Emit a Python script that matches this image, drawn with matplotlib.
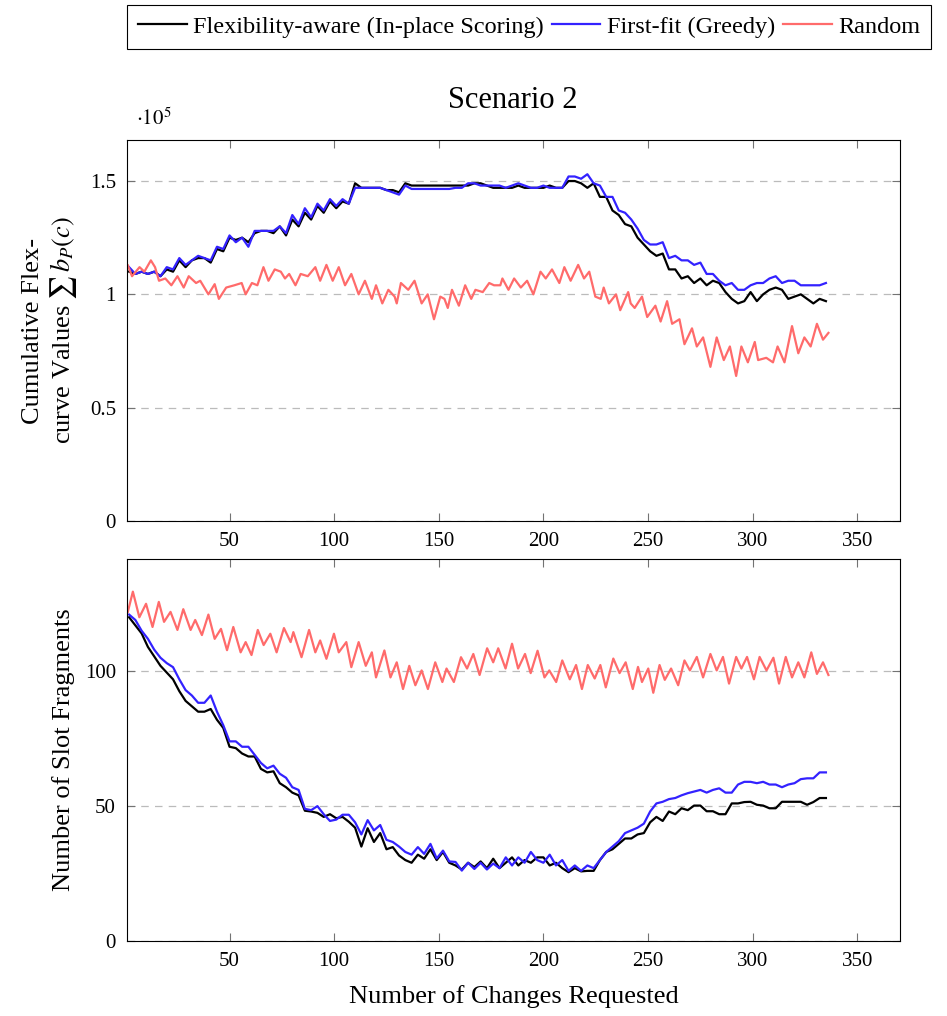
import matplotlib.pyplot as plt
from matplotlib.lines import Line2D
import numpy as np

plt.rcParams['font.family'] = ['Liberation Serif', 'DejaVu Serif']
plt.rcParams['mathtext.fontset'] = 'stix'

# shared step grid for the two greedy strategies
x_grid = np.arange(2, 336, 3)

# top panel: cumulative flex-curve values (x 1e5)
top_flex = [1.10, 1.09, 1.10, 1.09, 1.10, 1.08, 1.11, 1.10, 1.15, 1.12, 1.15, 1.16, 1.16, 1.14,
            1.20, 1.19, 1.25, 1.24, 1.25, 1.23, 1.27, 1.28, 1.28, 1.27, 1.30, 1.26, 1.33, 1.30,
            1.36, 1.33, 1.39, 1.36, 1.41, 1.38, 1.41, 1.40, 1.49, 1.47, 1.47, 1.47, 1.47, 1.46,
            1.46, 1.45, 1.49, 1.48, 1.48, 1.48, 1.48, 1.48, 1.48, 1.48, 1.48, 1.48, 1.48, 1.49,
            1.49, 1.48, 1.47, 1.47, 1.47, 1.47, 1.48, 1.47, 1.47, 1.47, 1.47, 1.48, 1.47, 1.47,
            1.50, 1.50, 1.49, 1.47, 1.49, 1.43, 1.43, 1.37, 1.35, 1.31, 1.30, 1.25, 1.22, 1.19,
            1.17, 1.18, 1.11, 1.11, 1.07, 1.08, 1.05, 1.07, 1.04, 1.06, 1.05, 1.01, 0.98, 0.96,
            0.97, 1.01, 0.97, 1.00, 1.02, 1.03, 1.02, 0.98, 0.99, 1.00, 0.98, 0.96, 0.98, 0.97]
top_first = [1.12, 1.09, 1.10, 1.09, 1.10, 1.08, 1.12, 1.11, 1.16, 1.13, 1.15, 1.17, 1.16, 1.15,
             1.21, 1.20, 1.26, 1.23, 1.25, 1.21, 1.28, 1.28, 1.28, 1.28, 1.30, 1.27, 1.35, 1.31,
             1.38, 1.34, 1.40, 1.37, 1.42, 1.39, 1.42, 1.40, 1.47, 1.47, 1.47, 1.47, 1.47, 1.46,
             1.45, 1.44, 1.48, 1.465, 1.465, 1.465, 1.465, 1.465, 1.465, 1.465, 1.47, 1.47, 1.49, 1.49,
             1.48, 1.48, 1.48, 1.48, 1.47, 1.48, 1.49, 1.48, 1.47, 1.47, 1.48, 1.47, 1.47, 1.47,
             1.52, 1.52, 1.51, 1.53, 1.49, 1.48, 1.43, 1.43, 1.37, 1.36, 1.33, 1.29, 1.24, 1.22,
             1.22, 1.23, 1.16, 1.17, 1.15, 1.15, 1.13, 1.14, 1.09, 1.09, 1.06, 1.04, 1.05, 1.02,
             1.02, 1.04, 1.05, 1.05, 1.07, 1.08, 1.05, 1.06, 1.06, 1.04, 1.04, 1.04, 1.04, 1.05]
top_rand_x = [1.4, 3.4, 7.0, 9.3, 12.4, 14.4, 16.3, 19.3, 22.2, 25.1, 28.1, 30.5, 34.0, 36.0, 39.9,
              42.9, 44.9, 48.4, 52.3, 55.8, 57.7, 60.7, 63.3, 66.2, 68.6, 71.6, 74.5, 76.5, 78.5,
              81.5, 84.0, 87.4, 91.0, 93.3, 96.3, 99.3, 102.2, 105.2, 108.2, 111.7, 114.7, 118.0,
              120.0, 123.0, 125.9, 128.9, 129.9, 131.9, 135.4, 138.4, 141.8, 144.7, 147.7, 150.7,
              152.7, 154.3, 156.3, 159.6, 162.6, 165.5, 167.5, 171.0, 174.1, 176.4, 179.4, 180.4,
              183.3, 186.0, 189.2, 192.2, 195.2, 198.6, 201.1, 204.1, 207.6, 210.0, 213.0, 216.6,
              219.4, 221.9, 224.8, 227.4, 228.8, 231.3, 234.7, 236.7, 240.5, 241.7, 243.6, 247.1,
              249.6, 253.5, 256.0, 259.1, 261.5, 265.0, 267.4, 271.0, 273.3, 276.3, 279.8, 282.8,
              286.2, 289.1, 292.1, 294.6, 297.7, 301.0, 302.6, 306.5, 309.7, 311.9, 315.2, 318.8,
              321.8, 324.7, 327.7, 330.7, 333.6, 336.2]
top_rand = [1.128, 1.08, 1.12, 1.10, 1.15, 1.12, 1.06, 1.07, 1.04, 1.08, 1.03, 1.08, 1.05, 1.06, 1.00,
            1.045, 0.98, 1.03, 1.04, 1.05, 1.00, 1.05, 1.04, 1.12, 1.06, 1.11, 1.10, 1.07, 1.09,
            1.04, 1.09, 1.08, 1.12, 1.06, 1.13, 1.06, 1.12, 1.04, 1.09, 1.00, 1.06, 0.98,
            1.04, 0.96, 1.02, 0.99, 0.96, 1.05, 1.02, 1.06, 0.96, 1.00, 0.89, 0.99,
            0.98, 0.94, 1.02, 0.95, 1.04, 0.98, 1.02, 1.01, 1.05, 1.04, 1.04, 1.07,
            1.02, 1.07, 1.03, 1.06, 1.00, 1.10, 1.07, 1.11, 1.05, 1.12, 1.06, 1.13,
            1.07, 1.10, 0.99, 0.98, 1.03, 0.96, 1.00, 0.93, 1.01, 0.96, 0.94, 0.99,
            0.90, 0.95, 0.88, 0.97, 0.87, 0.89, 0.78, 0.85, 0.77, 0.81, 0.68, 0.81,
            0.71, 0.77, 0.64, 0.77, 0.70, 0.79, 0.71, 0.72, 0.70, 0.77, 0.70, 0.86,
            0.74, 0.81, 0.77, 0.87, 0.80, 0.83]

# bottom panel: number of slot fragments
bot_flex = [120, 117, 114, 109, 105.5, 102, 99.5, 97, 92.6, 89, 87, 85, 85, 86, 82, 79, 72, 71.5,
            69.5, 68.4, 68.4, 63.8, 62.5, 62.9, 58.5, 57, 55, 54, 48.3, 48, 47.5, 46, 47, 45.5,
            46, 44.2, 42, 35, 41.8, 36.7, 40, 34, 34.8, 31.7, 30, 29, 32, 30.5, 34, 30, 33, 29,
            28, 26.5, 29, 27.4, 29.5, 27, 30.5, 27, 29, 31, 28, 30, 29, 31, 31, 28, 29, 27,
            25.5, 27, 25.8, 26, 26, 30, 33, 34, 36, 38, 38, 39.5, 40, 44, 46, 44.5, 48, 47,
            49.2, 48.5, 50.2, 50.2, 48.1, 48.1, 47, 47, 51, 51, 51.5, 51.6, 50.5, 50.2, 49.2,
            49.2, 51.6, 51.6, 51.6, 51.6, 50.5, 51.5, 53, 53]
bot_first = [121, 119, 115, 112, 108, 105, 103, 101.5, 97, 93, 91, 88.3, 88.3, 91, 85, 80, 74, 74,
             72, 72, 69, 66, 64, 65, 62, 60.5, 57, 56, 49, 48.5, 50, 47, 44.5, 45, 46.8, 46.8,
             44, 39.5, 44.8, 41, 43, 37.5, 36.7, 35, 33, 32, 34.8, 32.3, 36, 30.6, 33.5, 29.5,
             29.3, 26.1, 29, 26.7, 29, 26.5, 28.7, 27, 31, 28, 31, 29, 33, 30, 29, 32, 28, 30,
             26, 28, 26, 28, 27, 30, 33, 35, 37, 40, 41, 42, 43.5, 48, 51, 51.6, 52.6, 53, 54,
             54.8, 55.4, 56, 55, 56, 56.6, 55, 55, 58, 59, 59, 58.5, 59, 58, 58, 57, 58, 58.5,
             60, 60.3, 60.3, 62.5, 62.5]
bot_rand_x = [1.4, 3.8, 6.9, 10.1, 13.2, 16.2, 18.7, 21.8, 25.1, 27.9, 31.4, 33.6, 36.8, 39.9,
              42.9, 45.9, 48.8, 51.8, 55.3, 57.7, 60.5, 63.5, 66.3, 69.5, 72.5, 76.0, 79.2, 80.5,
              84.4, 88.0, 91.0, 93.3, 96.3, 99.9, 102.2, 105.8, 108.2, 111.7, 115.1, 118.0, 120.0,
              124.0, 126.9, 129.9, 132.9, 135.9, 138.8, 141.8, 144.8, 148.3, 151.7, 153.7, 157.2,
              160.6, 163.5, 166.5, 169.5, 173.1, 176.0, 178.4, 181.9, 185.0, 187.9, 191.2, 193.9,
              197.2, 200.5, 202.8, 206.1, 209.0, 212.6, 215.6, 218.4, 221.2, 224.5, 227.2, 229.8,
              233.4, 236.4, 239.3, 242.7, 245.2, 247.1, 250.1, 252.5, 255.5, 258.0, 261.0, 264.4,
              267.4, 270.0, 273.3, 276.3, 279.8, 282.8, 285.8, 288.7, 292.1, 294.6, 297.3, 300.6,
              303.3, 306.6, 309.9, 312.6, 315.8, 318.8, 321.8, 324.7, 328.0, 330.7, 333.6, 336.2]
bot_rand = [122, 129.5, 120, 125, 116.4, 125.7, 118.3, 122, 115.3, 123, 115.3, 119, 113.4, 121,
            112, 115.7, 107.8, 116.4, 107, 110.8, 106, 115.3, 109.7, 113.9, 107, 116, 110.8, 114.5,
            105.2, 115.3, 107, 111.4, 104.6, 113.9, 107, 110.8, 101.5, 110.8, 102, 107, 97.7,
            107.7, 97.7, 103.3, 93.4, 102, 94.8, 100.3, 93.4, 103.3, 96, 101, 96,
            105.2, 101, 106.4, 98.6, 108.5, 103.3, 108.5, 101, 110.2, 101, 106.4, 99.3,
            107.6, 97.7, 100.3, 96, 104, 97, 102.3, 93.4, 102.3, 97.3, 102.3, 94,
            104.7, 99.3, 103.3, 93.4, 101.6, 96, 101, 92, 102.3, 96.8, 101, 94.8,
            104, 100.3, 105.3, 97.7, 106.4, 100.3, 105.3, 95.4, 105.3, 101, 105.3, 97,
            105.3, 100.3, 105, 95.4, 105.3, 97.7, 103.3, 97.7, 107, 99, 103.3, 98.6]

labels = ['Flexibility-aware (In-place Scoring)', 'First-fit (Greedy)', 'Random']
colors = ['black', '#3322ff', '#ff6b6b']

fig = plt.figure(figsize=(9.47, 10.16), dpi=100)
ax1 = fig.add_axes([127/947, 1-521/1016, 773/947, 381/1016])
ax2 = fig.add_axes([127/947, 1-941/1016, 773/947, 382/1016])

lw = 1.6
ax1.plot(x_grid, top_flex, color=colors[0], lw=lw)
ax1.plot(x_grid, top_first, color=colors[1], lw=lw)
ax1.plot(top_rand_x, top_rand, color=colors[2], lw=lw)
ax2.plot(x_grid, bot_flex, color=colors[0], lw=lw)
ax2.plot(x_grid, bot_first, color=colors[1], lw=lw)
ax2.plot(bot_rand_x, bot_rand, color=colors[2], lw=lw)

ax1.set_ylim(0, 1.681)
ax1.set_yticks([0, 0.5, 1, 1.5])
ax1.set_yticklabels(['0', '0.5', '1', '1.5'])
ax2.set_ylim(0, 141.6)
ax2.set_yticks([0, 50, 100])

for ax in (ax1, ax2):
    ax.set_xlim(1, 370.4)
    ax.set_xticks([50, 100, 150, 200, 250, 300, 350])
    ax.tick_params(direction='in', top=True, right=True, length=6, width=0.8,
                   color='0.45', labelsize=15, pad=8)
    ax.yaxis.grid(True, linestyle=(0, (6, 5)), color='#bbbbbb', lw=0.9)
    ax.set_axisbelow(True)
    for s in ax.spines.values():
        s.set_linewidth(0.8)

ax1.set_ylabel('Cumulative Flex-\ncurve Values $\\sum\\, b_P(c)$', fontsize=19, linespacing=1.2)
ax1.yaxis.set_label_coords(-0.062, 0.5)
ax2.set_ylabel('Number of Slot Fragments', fontsize=19)
ax2.yaxis.set_label_coords(-0.067, 0.5)
ax2.set_xlabel('Number of Changes Requested', fontsize=19, labelpad=10)

fig.text(513/947, 1-101/1016, 'Scenario 2', ha='center', va='center', fontsize=22)
fig.text(136/947, 1-119/1016, r'$\cdot10^5$', ha='left', va='center', fontsize=15)

handles = [Line2D([], [], color=c, lw=lw) for c in colors]
leg = fig.legend(handles, labels, loc='upper left', bbox_to_anchor=(127/947, 1-5/1016),
                 ncol=3, frameon=True, fancybox=False, edgecolor='black', framealpha=1,
                 fontsize=17.5, handlelength=2.0, handletextpad=0.25, columnspacing=0.35,
                 borderpad=0.45, borderaxespad=0)
leg.get_frame().set_linewidth(0.8)

fig.savefig('out.png', dpi=100)
